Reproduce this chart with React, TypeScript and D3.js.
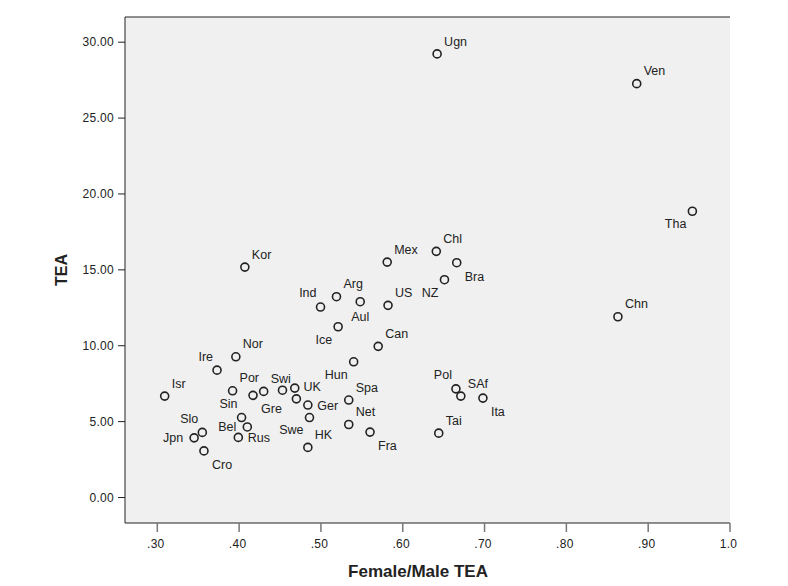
import * as d3 from 'd3'

// --- DATA ---
const countries = [
  'Ugn', 'Ven', 'Tha', 'Chn', 'Kor', 'Mex', 'Chl', 'Bra', 'NZ', 'US',
  'Arg', 'Ind', 'Aul', 'Ice', 'Can', 'Hun', 'Nor', 'Ire', 'Isr', 'Por',
  'Gre', 'Swi', '', '', 'UK', 'Ger', 'Swe', 'Sin', 'Bel', 'Rus',
  'Slo', 'Jpn', 'Cro', 'HK', 'Spa', 'Net', 'Fra', 'Pol', 'SAf', 'Ita',
  'Tai',
]

const femaleMaleTEA = [
  0.642, 0.886, 0.954, 0.863, 0.407, 0.581, 0.641, 0.666, 0.651, 0.582,
  0.519, 0.4995, 0.548, 0.521, 0.570, 0.540, 0.396, 0.373, 0.309, 0.392,
  0.417, 0.430, 0.453, 0.468, 0.470, 0.484, 0.486, 0.403, 0.410, 0.399,
  0.355, 0.345, 0.357, 0.484, 0.534, 0.534, 0.560, 0.665, 0.671, 0.698,
  0.644,
]

const tea = [
  29.23, 27.27, 18.86, 11.91, 15.18, 15.51, 16.22, 15.47, 14.35, 12.66,
  13.23, 12.55, 12.9, 11.25, 9.96, 8.94, 9.27, 8.39, 6.68, 7.03,
  6.73, 6.99, 7.07, 7.21, 6.5, 6.09, 5.27, 5.27, 4.65, 3.96,
  4.29, 3.93, 3.07, 3.3, 6.42, 4.81, 4.31, 7.16, 6.68, 6.55,
  4.24,
]

// where each label sits relative to its point (default: upper right)
const labelSide: Record<string, string> = {
  Tha: 'sw', Bra: 'se', NZ: 'sw', Ind: 'nw', Aul: 's', Ice: 'sw', Hun: 'sw',
  Ire: 'nw', Gre: 'se', Ger: 'e', Swe: 'sw', Sin: 'nw', Bel: 'w', Rus: 'e',
  Slo: 'nw', Jpn: 'w', Cro: 'se', Fra: 'se', Pol: 'nw', Ita: 'se',
}

const xTicks = [0.3, 0.4, 0.5, 0.6, 0.7, 0.8, 0.9, 1.0]
const xTickLabels = ['.30', '.40', '.50', '.60', '.70', '.80', '.90', '1.0']
const yTicks = [0, 5, 10, 15, 20, 25, 30]
const yTickLabels = ['0.00', '5.00', '10.00', '15.00', '20.00', '25.00', '30.00']

const W = 788
const H = 586
const left = 125
const right = 730
const top = 17
const bottom = 523
const font = '"Liberation Sans", Arial, Helvetica, sans-serif'
const ink = '#222'

const sideOffsets: Record<string, { dx: number; dy: number; anchor: string }> = {
  ne: { dx: 7, dy: -12.7, anchor: 'start' },
  nw: { dx: -4, dy: -14, anchor: 'end' },
  se: { dx: 8, dy: 13.5, anchor: 'start' },
  sw: { dx: -6, dy: 12.5, anchor: 'end' },
  e: { dx: 9.5, dy: 0.5, anchor: 'start' },
  w: { dx: -11, dy: 0, anchor: 'end' },
  s: { dx: 0, dy: 15, anchor: 'middle' },
}

export default function App() {
  const x = d3.scaleLinear().domain([0.2605, 1.0]).range([left, right])
  const y = d3.scaleLinear().domain([-1.68, 31.66]).range([bottom, top])

  const points = countries.map((name, i) => ({
    name,
    fm: femaleMaleTEA[i],
    tea: tea[i],
  }))

  return (
    <div style={{ position: 'absolute', left: 0, top: 0 }}>
      <svg width={W} height={H} style={{ display: 'block', background: '#fff' }} fontFamily={font}>
        {/* plot area */}
        <rect x={left} y={top} width={right - left} height={bottom - top} fill="#f0f0f0" />
        <line x1={left} x2={right} y1={top} y2={top} stroke={ink} strokeWidth={1} />
        <line x1={left} x2={left} y1={top} y2={bottom} stroke={ink} strokeWidth={1} />
        <line x1={left} x2={right} y1={bottom} y2={bottom} stroke={ink} strokeWidth={1.2} />

        {/* y axis */}
        {yTicks.map((t, i) => (
          <g key={`y${t}`}>
            <line x1={left - 7} x2={left} y1={y(t)} y2={y(t)} stroke={ink} strokeWidth={1} />
            <text
              x={left - 11}
              y={y(t)}
              dy="0.35em"
              textAnchor="end"
              fontSize={12}
              letterSpacing={0.3}
              fill={ink}
            >
              {yTickLabels[i]}
            </text>
          </g>
        ))}

        {/* x axis */}
        {xTicks.map((t, i) => (
          <g key={`x${t}`}>
            <line x1={x(t)} x2={x(t)} y1={bottom} y2={bottom + 9} stroke="#777" strokeWidth={1.5} />
            <text
              x={x(t) - 1.5}
              y={544}
              dy="0.35em"
              textAnchor="middle"
              fontSize={12}
              letterSpacing={0.3}
              fill={ink}
            >
              {xTickLabels[i]}
            </text>
          </g>
        ))}

        {/* axis titles */}
        <text x={418} y={571} dy="0.35em" textAnchor="middle" fontSize={17} fontWeight="bold" fill={ink}>
          Female/Male TEA
        </text>
        <text
          transform={`translate(61.5, ${(top + bottom) / 2}) rotate(-90)`}
          dy="0.35em"
          textAnchor="middle"
          fontSize={16}
          fontWeight="bold"
          fill={ink}
        >
          TEA
        </text>

        {/* points */}
        {points.map((p, i) => (
          <circle
            key={`p${i}`}
            cx={x(p.fm)}
            cy={y(p.tea)}
            r={4}
            fill="none"
            stroke={ink}
            strokeWidth={1.6}
          />
        ))}

        {/* labels */}
        {points
          .filter((p) => p.name !== '')
          .map((p) => {
            const o = sideOffsets[labelSide[p.name] || 'ne']
            return (
              <text
                key={`l${p.name}`}
                x={x(p.fm) + o.dx}
                y={y(p.tea) + o.dy}
                dy="0.35em"
                textAnchor={o.anchor}
                fontSize={12.5}
                fill={ink}
              >
                {p.name}
              </text>
            )
          })}
      </svg>
    </div>
  )
}
